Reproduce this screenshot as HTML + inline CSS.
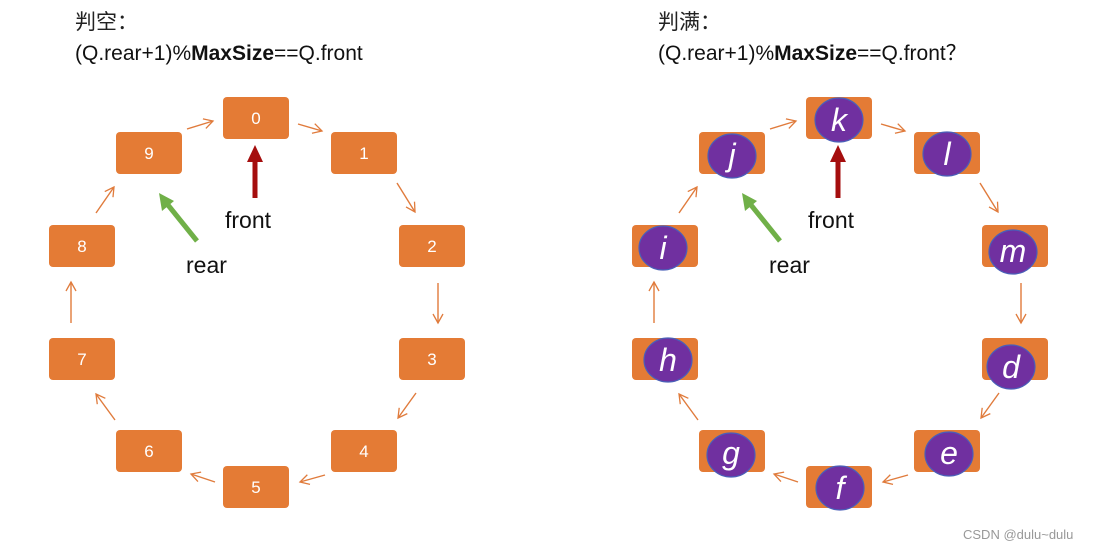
<!DOCTYPE html>
<html><head><meta charset="utf-8"><style>
html,body{margin:0;padding:0;background:#fff;}
svg{display:block;}
text{font-family:"Liberation Sans","Noto Sans CJK SC",sans-serif;}
</style></head><body>
<svg width="1097" height="549" viewBox="0 0 1097 549" xmlns="http://www.w3.org/2000/svg">
<defs>
<marker id="oa" markerWidth="12" markerHeight="12" refX="10" refY="6" orient="auto" markerUnits="userSpaceOnUse">
<path d="M1,1 L10,6 L1,11" fill="none" stroke="#e07b3c" stroke-width="1.3"/>
</marker>
<g id="arrows" stroke="#e07b3c" stroke-width="1.4" fill="none">
<line x1="187" y1="129" x2="213" y2="121" marker-end="url(#oa)"/>
<line x1="298" y1="124" x2="322" y2="131" marker-end="url(#oa)"/>
<line x1="397" y1="183" x2="415" y2="212" marker-end="url(#oa)"/>
<line x1="438" y1="283" x2="438" y2="323" marker-end="url(#oa)"/>
<line x1="416" y1="393" x2="398" y2="418" marker-end="url(#oa)"/>
<line x1="325" y1="475" x2="300" y2="482" marker-end="url(#oa)"/>
<line x1="215" y1="482" x2="191" y2="474" marker-end="url(#oa)"/>
<line x1="115" y1="420" x2="96" y2="394" marker-end="url(#oa)"/>
<line x1="71" y1="323" x2="71" y2="282" marker-end="url(#oa)"/>
<line x1="96" y1="213" x2="114" y2="187" marker-end="url(#oa)"/>
</g>
<g id="ptr">
<line x1="255" y1="198" x2="255" y2="160" stroke="#a50e0e" stroke-width="5"/>
<polygon points="247,162 263,162 255,145" fill="#a50e0e"/>
<line x1="197" y1="241" x2="168" y2="205" stroke="#70b048" stroke-width="5"/>
<polygon points="159,193 174,201 162,211" fill="#70b048"/>
<text x="225" y="228" font-size="23" fill="#111">front</text>
<text x="186" y="273" font-size="23" fill="#111">rear</text>
</g>
</defs>

<g fill="#e47b35">
<rect x="223" y="97" width="66" height="42" rx="4"/>
<rect x="331" y="132" width="66" height="42" rx="4"/>
<rect x="116" y="132" width="66" height="42" rx="4"/>
<rect x="399" y="225" width="66" height="42" rx="4"/>
<rect x="49" y="225" width="66" height="42" rx="4"/>
<rect x="399" y="338" width="66" height="42" rx="4"/>
<rect x="49" y="338" width="66" height="42" rx="4"/>
<rect x="331" y="430" width="66" height="42" rx="4"/>
<rect x="116" y="430" width="66" height="42" rx="4"/>
<rect x="223" y="466" width="66" height="42" rx="4"/>
</g>
<g fill="#fff" font-size="17" text-anchor="middle" font-family="Liberation Sans, sans-serif">
<text x="256" y="124">0</text><text x="364" y="159">1</text><text x="149" y="159">9</text>
<text x="432" y="252">2</text><text x="82" y="252">8</text><text x="432" y="365">3</text>
<text x="82" y="365">7</text><text x="364" y="457">4</text><text x="149" y="457">6</text>
<text x="256" y="493">5</text>
</g>
<use href="#arrows"/>
<use href="#ptr"/>
<text x="75" y="29" font-size="21" fill="#222">判空：</text>
<text x="75" y="60" font-size="21" fill="#111">(Q.rear+1)%<tspan font-weight="bold">MaxSize</tspan>==Q.front</text>

<g transform="translate(583,0)">
<g fill="#e47b35">
<rect x="223" y="97" width="66" height="42" rx="4"/>
<rect x="331" y="132" width="66" height="42" rx="4"/>
<rect x="116" y="132" width="66" height="42" rx="4"/>
<rect x="399" y="225" width="66" height="42" rx="4"/>
<rect x="49" y="225" width="66" height="42" rx="4"/>
<rect x="399" y="338" width="66" height="42" rx="4"/>
<rect x="49" y="338" width="66" height="42" rx="4"/>
<rect x="331" y="430" width="66" height="42" rx="4"/>
<rect x="116" y="430" width="66" height="42" rx="4"/>
<rect x="223" y="466" width="66" height="42" rx="4"/>
</g>
<g fill="#7030a0" stroke="#4a5fb8" stroke-width="1.2">
<ellipse cx="256" cy="120" rx="24" ry="22"/>
<ellipse cx="364" cy="154" rx="24" ry="22"/>
<ellipse cx="149" cy="156" rx="24" ry="22"/>
<ellipse cx="430" cy="252" rx="24" ry="22"/>
<ellipse cx="80" cy="248" rx="24" ry="22"/>
<ellipse cx="428" cy="367" rx="24" ry="22"/>
<ellipse cx="85" cy="360" rx="24" ry="22"/>
<ellipse cx="366" cy="454" rx="24" ry="22"/>
<ellipse cx="148" cy="455" rx="24" ry="22"/>
<ellipse cx="257" cy="488" rx="24" ry="22"/>
</g>
<g fill="#fff" font-size="32" font-style="italic" text-anchor="middle" font-family="DejaVu Sans, sans-serif">
<text x="256" y="131">k</text><text x="364" y="165">l</text><text x="149" y="166">j</text>
<text x="430" y="262">m</text><text x="80" y="259">i</text><text x="428" y="378">d</text>
<text x="85" y="371">h</text><text x="366" y="464">e</text><text x="148" y="464">g</text>
<text x="257" y="499">f</text>
</g>
<use href="#arrows"/>
<use href="#ptr"/>
<text x="75" y="29" font-size="21" fill="#222">判满：</text>
<text x="75" y="60" font-size="21" fill="#111">(Q.rear+1)%<tspan font-weight="bold">MaxSize</tspan>==Q.front？</text>
</g>
<text x="963" y="539" font-size="13" fill="#999">CSDN @dulu~dulu</text>
</svg>
</body></html>
